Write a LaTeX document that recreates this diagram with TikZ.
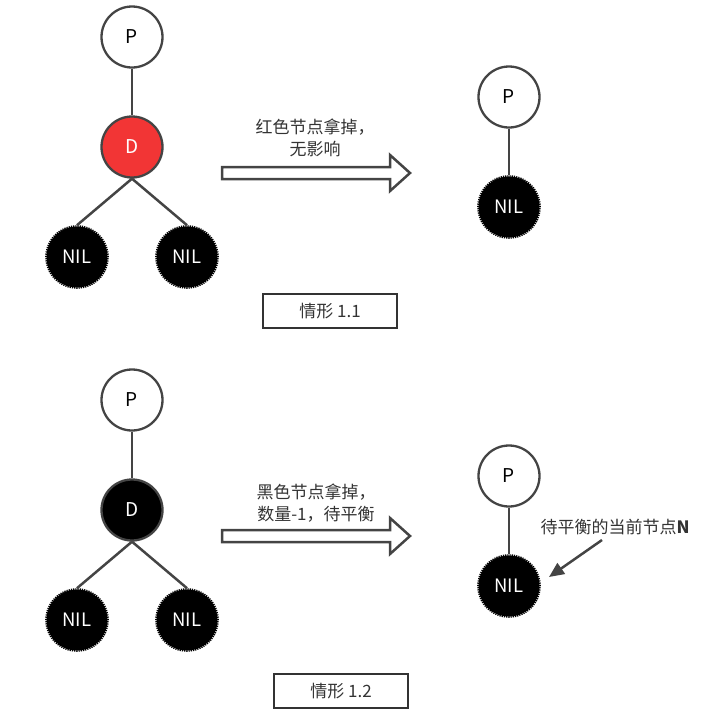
\documentclass[tikz,border=0pt]{standalone}
\usepackage{fontspec}
\setmainfont{Noto Sans CJK SC}
\usepackage{tikz}
\usetikzlibrary{arrows.meta,positioning}
\definecolor{lineGray}{HTML}{444444}
\definecolor{textGray}{HTML}{333333}
\definecolor{delRed}{HTML}{F23535}
\tikzstyle{rbTree} = [
  level distance=110pt,
  sibling distance=110pt,
  every node/.style = {
    shape=circle,
    draw=lineGray,
    line width=2.3pt,
    minimum size=61pt,
    inner sep=0pt,
    text=black,
    font=\fontsize{19}{22}\selectfont,},
  edge from parent/.style = {draw=lineGray, line width=2.5pt},
  edge from parent path = {(\tikzparentnode.south) -- (\tikzchildnode.north)},
  ]
\tikzstyle{nilNode} = [
  fill=black, draw=black, line width=2.6pt,
  dash pattern=on 1.2pt off 1pt,
  text=white, font=\fontsize{18.5}{22}\selectfont]
\tikzstyle{redNode} = [fill=delRed, text=white]
\tikzstyle{blackNode} = [fill=black, text=white]
\tikzstyle{moveArrow} = [draw=lineGray, line width=2.5pt, fill=white, line join=miter]
\tikzstyle{caption} = [draw=textGray, line width=2.5pt, minimum width=134pt,
  minimum height=34pt, text=textGray, font=\fontsize{17}{20}\selectfont]
\tikzstyle{note} = [align=center, text=textGray, font=\fontsize{17}{22}\selectfont]
\newcommand{\arrowAt}[1]{%
  \draw[moveArrow] (222,#1-6) -- (390,#1-6) -- (390,#1-18) -- (410,#1)
    -- (390,#1+18) -- (390,#1+6) -- (222,#1+6) -- cycle;}

\begin{document}
\begin{tikzpicture}[x=1pt, y=-1pt, rbTree]
  \useasboundingbox (0,0) rectangle (708,718);

  % case 1.1
  \node (p1) at (132,37) {P}
    child { node[redNode] (d1) {D}
      child { node[nilNode] (n1a) {NIL}}
      child { node[nilNode] (n1b) {NIL}}
    };
  \arrowAt{173}
  \node[note, draw=none, shape=rectangle] (t1) at (315,138) {红色节点拿掉，\\无影响};
  \node (p2) at (509,97) {P}
    child { node[nilNode] (n2) {NIL}};
  \node[caption, shape=rectangle] (c1) at (330,311) {情形 1.1};

  % case 1.2
  \node (p3) at (132,400) {P}
    child { node[blackNode] (d3) {D}
      child { node[nilNode] (n3a) {NIL}}
      child { node[nilNode] (n3b) {NIL}}
    };
  \arrowAt{536}
  \node[note, draw=none, shape=rectangle] (t3) at (316,503) {黑色节点拿掉，\\数量-1，待平衡};
  \node (p4) at (509,476) {P}
    child { node[nilNode] (n4) {NIL}};
  \node[note, draw=none, shape=rectangle] (lbl) at (615,527) {待平衡的当前节点\textbf{N}};
  \coordinate (ptrFrom) at (602,540);
  \coordinate (ptrTo) at (549,577);
  \draw[-{Triangle[length=15pt,width=13pt]}, draw=lineGray, fill=lineGray, line width=2.5pt]
    (ptrFrom) -- (ptrTo);
  \node[caption, shape=rectangle] (c3) at (341,691) {情形 1.2};

\end{tikzpicture}
\end{document}
